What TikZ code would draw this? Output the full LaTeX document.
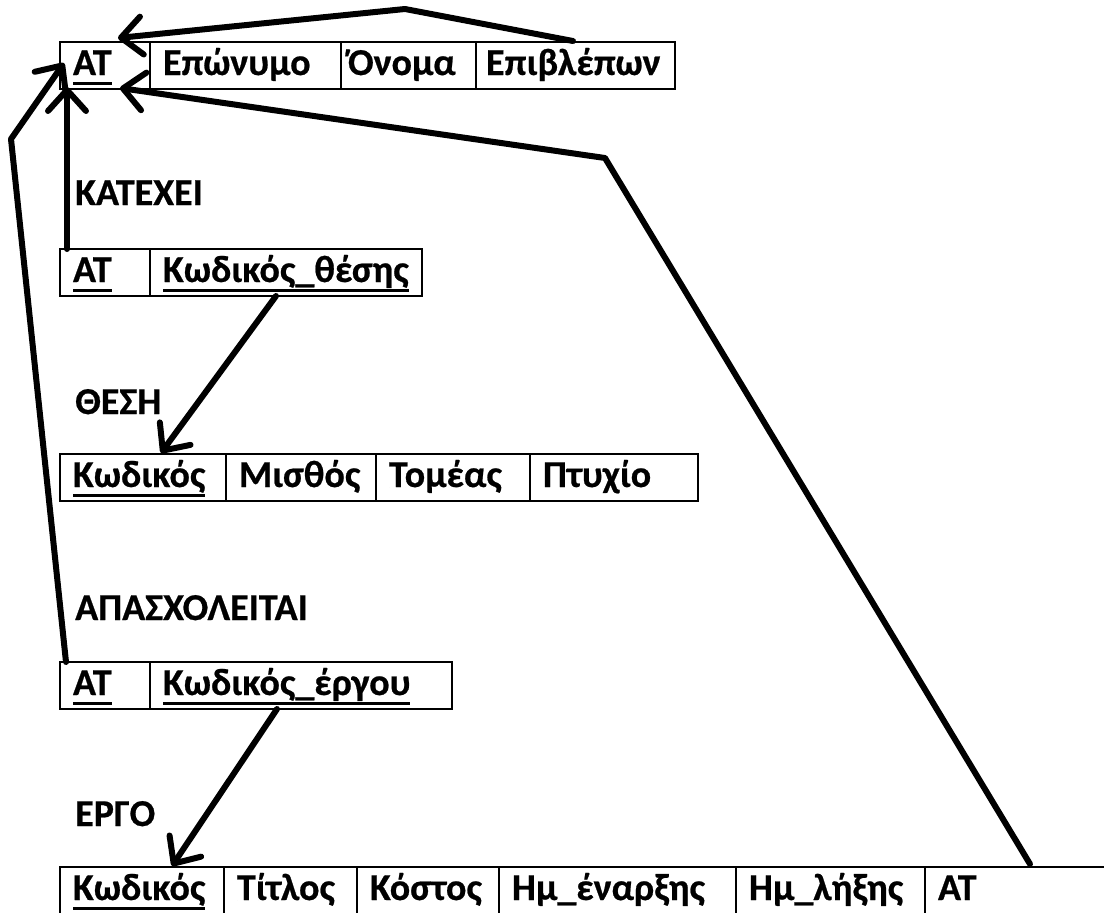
\documentclass[tikz,border=0pt]{standalone}
\usepackage{fontspec}
\setmainfont{Carlito}[BoldFeatures={FakeBold=0.6}]
\usetikzlibrary{arrows.meta}
\newcommand\myul[1]{\setbox0\hbox{#1}\rlap{\rule[-10pt]{\wd0}{3.5pt}}\box0}
\begin{document}
\begin{tikzpicture}[x=1pt,y=-1pt,
  font=\fontsize{38}{44}\selectfont\bfseries,
  cell/.style 2 args={draw, line width=2.2pt, anchor=north west, outer sep=0pt,
    minimum height=47pt, minimum width=#1pt, text width=#2pt,
    inner xsep=13pt, inner ysep=0pt, align=left, text height=24pt, text depth=5pt},
  lbl/.style={anchor=base west, inner sep=0pt},
  conn/.style={line width=6pt, line cap=round, line join=round,
    -{Straight Barb[length=21pt,width=38pt,round]}}]
\path[use as bounding box] (0,0) rectangle (1104,913);
\clip (0,0) rectangle (1104,913);
% Table 1
\node[cell={90}{64}]   (t1a) at (60,42)  {\myul{ΑΤ}};
\node[cell={191}{165}] (t1b) at (150,42) {Επώνυμο};
\node[cell={135}{109}] (t1c) at (341,42) {\hspace*{-6pt}Όνομα};
\node[cell={199}{173}] (t1d) at (476,42) {\hspace*{-3pt}Επιβλέπων};
% KATEXEI
\node[lbl] (l2) at (75,205) {ΚΑΤΕΧΕΙ};
\node[cell={90}{64}]   (t2a) at (60,249)  {\myul{ΑΤ}};
\node[cell={272}{246}] (t2b) at (150,249) {\myul{Κωδικός\_θέσης}};
% THESH
\node[lbl] (l3) at (75,414) {ΘΕΣΗ};
\node[cell={166}{140}] (t3a) at (60,454)  {\myul{Κωδικός}};
\node[cell={150}{124}] (t3b) at (226,454) {Μισθός};
\node[cell={154}{128}] (t3c) at (376,454) {Τομέας};
\node[cell={168}{142}] (t3d) at (530,454) {Πτυχίο};
% APASXOLEITAI
\node[lbl] (l4) at (75,620) {ΑΠΑΣΧΟΛΕΙΤΑΙ};
\node[cell={90}{64}]   (t4a) at (60,662)  {\myul{ΑΤ}};
\node[cell={302}{276}] (t4b) at (150,662) {\myul{Κωδικός\_έργου}};
% ERGO
\node[lbl] (l5) at (75,826) {ΕΡΓΟ};
\node[cell={164}{138}] (t5a) at (60,867)  {\myul{Κωδικός}};
\node[cell={133}{107}] (t5b) at (224,867) {Τίτλος};
\node[cell={142}{116}] (t5c) at (357,867) {Κόστος};
\node[cell={237}{211}] (t5d) at (499,867) {Ημ\_έναρξης};
\node[cell={189}{163}] (t5e) at (736,867) {Ημ\_λήξης};
\node[cell={190}{164}] (t5f) at (925,867) {ΑΤ};
% bend points
\coordinate (b1) at (405,9);
\coordinate (b2) at (605,158);
\coordinate (b4) at (11,139);
% connectors
\draw[conn] ([xshift=97pt,yshift=1pt]t1d.north west) -- (b1) -- ([xshift=58pt,yshift=4pt]t1a.north west);
\draw[conn] ([xshift=105pt,yshift=3pt]t5f.north west) -- (b2) -- ([xshift=60pt,yshift=1pt]t1a.south west);
\draw[conn] ([xshift=7pt]t2a.north west) -- ([xshift=7pt,yshift=2pt]t1a.south west);
\draw[conn] ([xshift=6pt]t4a.north west) -- (b4) -- ([xshift=4pt,yshift=-21pt]t1a.north west);
\draw[conn] ([xshift=126pt]t2b.south west) -- ([xshift=101pt,yshift=1pt]t3a.north west);
\draw[conn] ([xshift=127pt]t4b.south west) -- ([xshift=112pt,yshift=1pt]t5a.north west);
\end{tikzpicture}
\end{document}
